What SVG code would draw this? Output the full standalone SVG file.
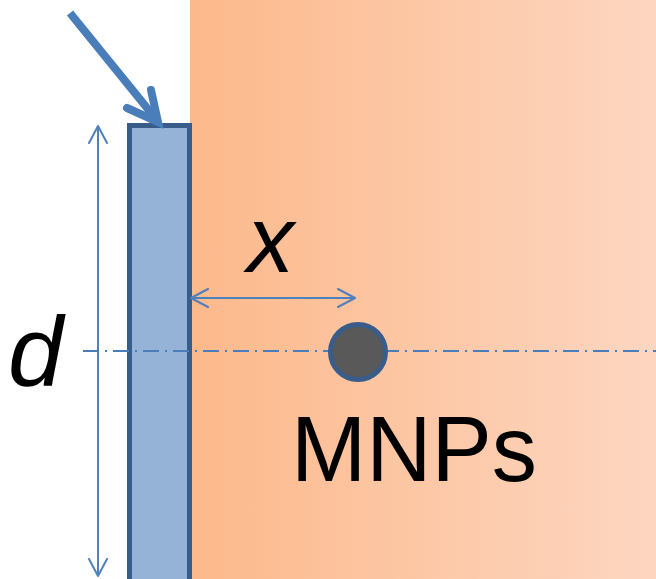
<svg xmlns="http://www.w3.org/2000/svg" width="656" height="579" viewBox="0 0 656 579">
<defs>
<linearGradient id="bg" x1="0" y1="0" x2="1" y2="0">
<stop offset="0" stop-color="#FCB98B"/>
<stop offset="1" stop-color="#FDD6C1"/>
</linearGradient>
<style>
.dim{fill:none;stroke:#4F81BD;stroke-width:2;stroke-linecap:round;stroke-linejoin:round}
.lbl{font-family:"Liberation Sans",Arial,sans-serif;fill:#000}
</style>
</defs>
<rect x="0" y="0" width="656" height="579" fill="#FFFFFF"/>
<rect id="medium" x="190" y="0" width="466" height="579" fill="url(#bg)"/>
<g id="plate">
<rect x="129.5" y="125.5" width="60" height="470" fill="#95B3D7" stroke="#385D8A" stroke-width="5"/>
</g>
<g id="connectors">
<path d="M70,13 L156,119" fill="none" stroke="#4A7EBB" stroke-width="8" stroke-linecap="butt"/>
<path d="M151,90 L158,122 L127,108" fill="none" stroke="#4A7EBB" stroke-width="8" stroke-linecap="round" stroke-linejoin="miter"/>
<path class="dim" d="M98,126 L98,576 M89,143 L98,126 L107,143 M89,559 L98,576 L107,559"/>
<path class="dim" d="M191,298 L355,298 M208,289 L191,298 L208,307 M338,289 L355,298 L338,307"/>
<path d="M83,351 L656,351" fill="none" stroke="#4A7EBB" stroke-width="2" stroke-dasharray="16 6 2 6"/>
</g>
<g id="mnp">
<circle cx="358" cy="352" r="27.5" fill="#595959" stroke="#385D8A" stroke-width="5"/>
</g>
<text class="lbl" x="247" y="272" font-size="94" font-style="italic">x</text>
<text class="lbl" x="8" y="385" font-size="99" font-style="italic">d</text>
<text class="lbl" x="291" y="481" font-size="92" textLength="246" lengthAdjust="spacingAndGlyphs">MNPs</text>
</svg>
